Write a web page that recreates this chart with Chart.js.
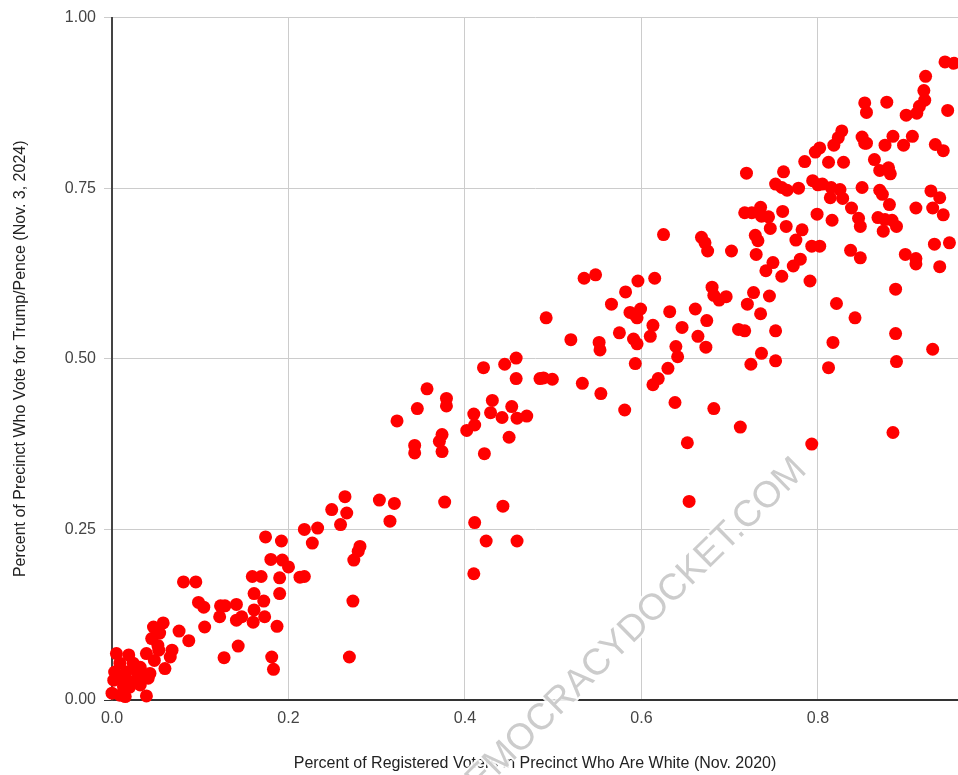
<!DOCTYPE html>
<html><head><meta charset="utf-8">
<script src="https://cdn.jsdelivr.net/npm/chart.js@4"></script>
<style>html,body{margin:0;padding:0;background:#fff;overflow:hidden}canvas{display:block}</style>
</head><body>
<canvas id="c" width="958" height="775"></canvas>
<script>
// Percent of registered voters in precinct who are white (Nov. 2020)
const xValues = [
  0.005,0.019,0.002,0.003,0.000,0.009,0.015,0.039,0.009,0.024,0.032,0.043,0.035,0.027,0.017,0.013,0.020,0.032,0.041,0.007,0.016,0.027,0.039,0.053,0.068,0.066,0.060,0.047,0.058,0.045,0.054,0.051,0.076,0.087,0.048,0.052,
  0.081,0.095,0.098,0.104,0.105,0.123,0.128,0.122,0.141,0.141,0.147,0.143,0.127,0.161,0.159,0.169,0.172,0.161,0.160,0.173,0.187,0.181,0.183,0.174,0.192,0.180,0.193,0.200,0.190,0.190,0.213,0.218,0.218,0.227,0.233,
  0.249,0.264,0.266,0.259,0.281,0.279,0.274,0.303,0.320,0.315,0.377,0.323,0.346,0.357,0.379,0.379,0.343,0.343,0.374,0.371,0.374,0.402,0.410,0.411,0.422,0.421,0.445,0.458,0.458,0.431,0.429,0.442,0.453,0.459,0.470,0.450,0.485,0.411,0.443,0.424,0.459,0.410,0.269,0.273,
  0.625,0.668,0.672,0.675,0.702,0.535,0.548,0.596,0.615,0.582,0.566,0.587,0.593,0.599,0.595,0.632,0.661,0.674,0.680,0.682,0.688,0.696,0.710,0.492,0.520,0.552,0.553,0.575,0.591,0.595,0.613,0.610,0.646,0.664,0.673,0.639,0.641,0.593,0.630,0.619,0.613,0.489,0.499,0.533,0.554,0.581,0.638,0.682,0.712,0.652,0.654,
  0.719,0.761,0.785,0.797,0.802,0.812,0.829,0.818,0.853,0.876,0.897,0.933,0.942,0.864,0.870,0.880,0.882,0.752,0.759,0.765,0.778,0.794,0.800,0.805,0.815,0.814,0.825,0.828,0.850,0.870,0.873,0.881,0.838,0.928,0.938,0.911,0.930,0.942,0.717,0.725,0.735,0.736,0.744,0.746,0.760,0.764,0.782,0.775,0.799,0.816,0.846,0.848,0.868,0.876,0.884,0.889,0.874,0.729,0.732,0.730,0.749,0.741,0.759,0.772,0.780,0.793,0.802,0.791,0.837,0.848,0.899,0.911,0.911,0.932,0.949,0.938,0.888,0.821,0.842,0.888,0.727,0.745,0.720,0.735,0.717,0.752,0.817,
  0.930,0.736,0.724,0.752,0.812,0.889,0.793,0.885,
  0.944,0.954,0.922,0.920,0.921,0.915,0.912,0.947,0.900,0.878,0.853,0.855,0.827,0.823,0.850,0.855,0.885,0.907
];
// Percent of precinct who vote for Trump/Pence (Nov. 3, 2024)
const yValues = [
  0.068,0.066,0.029,0.041,0.010,0.007,0.005,0.006,0.054,0.054,0.048,0.039,0.034,0.029,0.029,0.019,0.019,0.022,0.032,0.034,0.041,0.044,0.068,0.073,0.073,0.063,0.046,0.107,0.113,0.090,0.098,0.100,0.101,0.087,0.058,0.080,
  0.173,0.173,0.143,0.136,0.107,0.138,0.138,0.122,0.140,0.117,0.122,0.079,0.062,0.156,0.181,0.181,0.145,0.132,0.114,0.122,0.108,0.063,0.045,0.239,0.233,0.206,0.205,0.195,0.179,0.156,0.180,0.181,0.250,0.230,0.252,
  0.279,0.298,0.274,0.257,0.225,0.218,0.205,0.293,0.288,0.262,0.290,0.409,0.427,0.456,0.442,0.431,0.373,0.362,0.389,0.379,0.364,0.395,0.419,0.403,0.361,0.487,0.492,0.501,0.471,0.439,0.421,0.414,0.430,0.413,0.416,0.385,0.471,0.260,0.284,0.233,0.233,0.185,0.063,0.145,
  0.682,0.678,0.670,0.658,0.658,0.618,0.623,0.614,0.618,0.598,0.580,0.568,0.564,0.573,0.560,0.569,0.573,0.556,0.605,0.593,0.586,0.591,0.543,0.560,0.528,0.524,0.513,0.538,0.529,0.522,0.549,0.533,0.546,0.533,0.517,0.518,0.503,0.493,0.486,0.471,0.462,0.472,0.470,0.464,0.449,0.425,0.436,0.427,0.400,0.377,0.291,
  0.772,0.774,0.789,0.803,0.809,0.788,0.788,0.813,0.816,0.813,0.813,0.814,0.805,0.792,0.776,0.780,0.771,0.756,0.751,0.747,0.750,0.761,0.755,0.756,0.751,0.736,0.748,0.735,0.751,0.747,0.741,0.726,0.721,0.746,0.736,0.721,0.721,0.711,0.714,0.714,0.722,0.709,0.708,0.691,0.716,0.694,0.689,0.674,0.712,0.703,0.706,0.694,0.707,0.704,0.703,0.694,0.687,0.681,0.673,0.653,0.641,0.629,0.621,0.636,0.646,0.665,0.665,0.614,0.659,0.648,0.653,0.647,0.639,0.668,0.670,0.635,0.602,0.581,0.560,0.537,0.597,0.592,0.580,0.566,0.541,0.541,0.524,
  0.514,0.508,0.492,0.497,0.487,0.496,0.375,0.392,
  0.935,0.933,0.914,0.893,0.879,0.870,0.860,0.864,0.857,0.876,0.875,0.861,0.834,0.824,0.825,0.816,0.826,0.826
];
const xTickValues = [0, 0.2, 0.4, 0.6, 0.8];
const xTickLabels = ['0.0', '0.2', '0.4', '0.6', '0.8'];
const yTickValues = [0, 0.25, 0.5, 0.75, 1];
const yTickLabels = ['0.00', '0.25', '0.50', '0.75', '1.00'];
const xTitle = 'Percent of Registered Voters in Precinct Who Are White (Nov. 2020)';
const yTitle = 'Percent of Precinct Who Vote for Trump/Pence (Nov. 3, 2024)';
const watermark = 'DEMOCRACYDOCKET.COM';

const n = Math.min(xValues.length, yValues.length);
const points = [];
for (let i = 0; i < n; i++) points.push({x: xValues[i], y: yValues[i]});

const FONT = '"Liberation Sans", Arial, sans-serif';

const watermarkPlugin = {
  id: 'watermark',
  afterDraw(chart) {
    const ctx = chart.ctx;
    ctx.save();
    ctx.translate(627, 635);
    ctx.rotate(-44.5 * Math.PI / 180);
    ctx.font = '37px "Liberation Sans", Arial, sans-serif';
    ctx.textAlign = 'center';
    ctx.textBaseline = 'middle';
    ctx.lineJoin = 'round';
    ctx.strokeStyle = 'rgba(255,255,255,0.9)';
    ctx.lineWidth = 4;
    ctx.strokeText(watermark, 0, 0);
    ctx.fillStyle = '#cccccc';
    ctx.fillText(watermark, 0, 0);
    ctx.restore();
  }
};

new Chart(document.getElementById('c'), {
  type: 'scatter',
  data: {
    datasets: [{
      data: points,
      backgroundColor: '#ff0000',
      borderWidth: 0,
      pointRadius: 6.5,
      pointHoverRadius: 6.5,
      clip: false
    }]
  },
  options: {
    responsive: false,
    devicePixelRatio: 1,
    animation: false,
    events: [],
    layout: {autoPadding: false, padding: {top: 17, right: 0, left: 0, bottom: 0}},
    plugins: {legend: {display: false}, tooltip: {enabled: false}},
    scales: {
      x: {
        type: 'linear',
        min: 0,
        max: 0.9587,
        afterBuildTicks: s => { s.ticks = xTickValues.map(v => ({value: v})); },
        afterFit: s => { s.height = 75; s.paddingRight = 0; s.paddingLeft = 0; },
        ticks: {
          callback: (v) => { const i = xTickValues.indexOf(v); return i >= 0 ? xTickLabels[i] : ''; },
          color: '#444', font: {family: FONT, size: 16}, padding: 9, maxRotation: 0
        },
        grid: {color: '#cccccc', lineWidth: 1, drawTicks: false},
        border: {color: '#333333', width: 2},
        title: {display: true, text: xTitle, color: '#222', font: {family: FONT, size: 16}, padding: {top: 0, bottom: 2}}
      },
      y: {
        type: 'linear',
        min: 0,
        max: 1,
        afterBuildTicks: s => { s.ticks = yTickValues.map(v => ({value: v})); },
        afterFit: s => { s.width = 112; },
        ticks: {
          callback: (v) => { const i = yTickValues.indexOf(v); return i >= 0 ? yTickLabels[i] : ''; },
          color: '#444', font: {family: FONT, size: 16}, padding: 8
        },
        grid: {
          color: '#cccccc', lineWidth: 1, tickLength: 8,
          tickColor: ctx => (ctx.tick && ctx.tick.value === 0) ? '#333333' : '#cccccc'
        },
        border: {color: '#444444', width: 2},
        title: {display: true, text: yTitle, color: '#222', font: {family: FONT, size: 16}, padding: {top: 11, bottom: 0}}
      }
    }
  },
  plugins: [watermarkPlugin]
});
</script>
</body></html>
